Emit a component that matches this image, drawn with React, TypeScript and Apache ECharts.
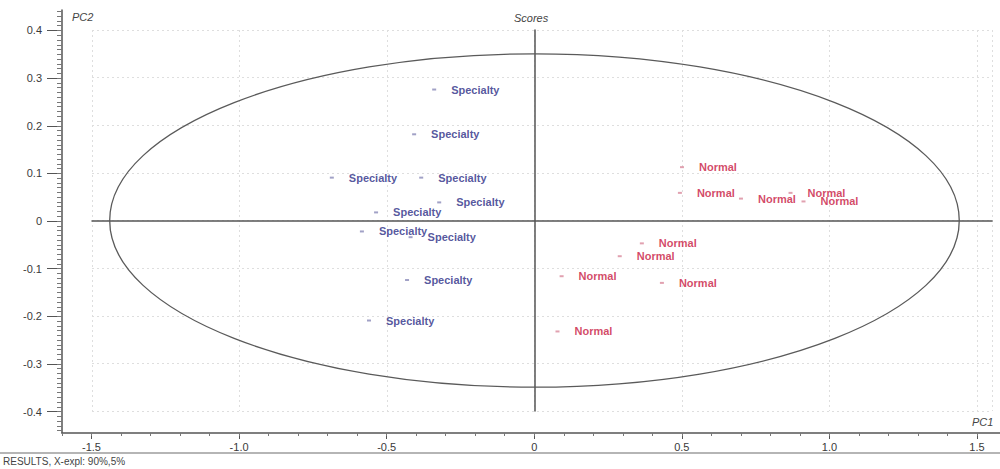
import React, { useEffect, useRef } from "react";
import * as echarts from "echarts";

// PCA scores
const specialtyPC1 = [-0.340, -0.408, -0.687, -0.384, -0.323, -0.537, -0.585, -0.420, -0.432, -0.561];
const specialtyPC2 = [0.275, 0.181, 0.090, 0.090, 0.038, 0.017, -0.023, -0.035, -0.125, -0.210];
const normalPC1 = [0.500, 0.493, 0.700, 0.868, 0.912, 0.364, 0.289, 0.092, 0.432, 0.078];
const normalPC2 = [0.112, 0.058, 0.046, 0.058, 0.040, -0.048, -0.075, -0.117, -0.131, -0.233];
const specialtyName = "Specialty";
const normalName = "Normal";

// Hotelling ellipse (center + semi-axes in score units)
const ellipseCenter = [0, 0];
const ellipseRadii = [1.44, 0.35];

const xTickLabels = [-1.5, -1.0, -0.5, 0, 0.5, 1.0, 1.5];
const yTickLabels = [-0.4, -0.3, -0.2, -0.1, 0, 0.1, 0.2, 0.3, 0.4];

const xMinor: number[] = [];
for (let i = -16; i <= 15; i++) xMinor.push(i / 10);
const yMinor: number[] = [];
for (let i = -44; i <= 44; i++) yMinor.push(i / 100);

const fmt = (v: number) => (Math.abs(v) < 1e-9 ? "0" : v.toFixed(1));

export default function App() {
  const ref = useRef<HTMLDivElement>(null);
  useEffect(() => {
    if (!ref.current) return;
    const chart = echarts.init(ref.current, null, { renderer: "svg" });
    const labelFont = { fontFamily: "Liberation Sans, Arial, sans-serif", fontSize: 11, color: "#3a3a3a" };
    const makeScatter = (name: string, xs: number[], ys: number[], textColor: string, dotColor: string) => ({
      type: "scatter",
      name,
      xAxisIndex: 2,
      yAxisIndex: 2,
      symbol: "rect",
      symbolSize: [4, 2],
      itemStyle: { color: dotColor },
      z: 5,
      label: {
        show: true,
        position: "right",
        distance: 15,
        formatter: () => name,
        fontFamily: "Liberation Sans, Arial, sans-serif",
        fontSize: 11,
        fontWeight: "bold",
        color: textColor,
      },
      data: xs.map((x, i) => [x, ys[i]]),
    });
    chart.setOption({
      animation: false,
      backgroundColor: "#ffffff",
      grid: [
        { left: 62, right: 0, top: 10, bottom: 36 },
        { left: 92, right: 8, top: 30, bottom: 58 },
      ],
      xAxis: [
        {
          type: "value",
          gridIndex: 0,
          min: -1.6,
          max: 1.578,
          position: "bottom",
          axisLine: { onZero: false, lineStyle: { color: "#555", width: 1.5 } },
          axisTick: { customValues: xTickLabels, length: 6, lineStyle: { color: "#555" } },
          axisLabel: { customValues: xTickLabels, formatter: fmt, margin: 8, ...labelFont },
          splitLine: { show: false },
        },
        {
          type: "value",
          gridIndex: 0,
          min: -1.6,
          max: 1.578,
          position: "bottom",
          axisLine: { show: false, onZero: false },
          axisTick: { customValues: xMinor, length: 3, lineStyle: { color: "#777" } },
          axisLabel: { show: false },
          splitLine: { show: false },
        },
        {
          type: "value",
          gridIndex: 1,
          min: -1.5,
          max: 1.551,
          interval: 0.5,
          axisLine: { onZero: true, lineStyle: { color: "#555", width: 1.5 } },
          axisTick: { show: false },
          axisLabel: { show: false },
          splitLine: { show: true, lineStyle: { color: "#dedede", type: [2, 3], width: 1 } },
        },
      ],
      yAxis: [
        {
          type: "value",
          gridIndex: 0,
          min: -0.445,
          max: 0.443,
          position: "left",
          axisLine: { onZero: false, lineStyle: { color: "#555", width: 1.5 } },
          axisTick: { customValues: yTickLabels, length: 15, lineStyle: { color: "#555" } },
          axisLabel: { customValues: yTickLabels, formatter: fmt, margin: 20, ...labelFont },
          splitLine: { show: false },
        },
        {
          type: "value",
          gridIndex: 0,
          min: -0.445,
          max: 0.443,
          position: "left",
          offset: 0,
          axisLine: { show: false, onZero: false },
          axisTick: { customValues: yMinor, length: 5, lineStyle: { color: "#777" } },
          axisLabel: { show: false },
          splitLine: { show: false },
        },
        {
          type: "value",
          gridIndex: 1,
          min: -0.4,
          max: 0.4,
          interval: 0.1,
          axisLine: { onZero: true, lineStyle: { color: "#555", width: 1.5 } },
          axisTick: { show: false },
          axisLabel: { show: false },
          splitLine: { show: true, lineStyle: { color: "#dedede", type: [2, 3], width: 1 } },
        },
      ],
      series: [
        {
          type: "custom",
          xAxisIndex: 2,
          yAxisIndex: 2,
          z: 3,
          silent: true,
          data: [ellipseCenter],
          renderItem: (_params: any, api: any) => {
            const c = api.coord([api.value(0), api.value(1)]);
            const s = api.size(ellipseRadii);
            return {
              type: "ellipse",
              shape: { cx: c[0], cy: c[1], rx: s[0], ry: s[1] },
              style: { fill: "none", stroke: "#5a5a5a", lineWidth: 1.3 },
            };
          },
        },
        makeScatter(specialtyName, specialtyPC1, specialtyPC2, "#2a2c85", "#8a8ab8"),
        makeScatter(normalName, normalPC1, normalPC2, "#c8173f", "#d98a9c"),
      ],
      graphic: [
        {
          type: "text",
          left: 72,
          top: 11,
          style: { text: "PC2", font: "italic 11px 'Liberation Sans', Arial, sans-serif", fill: "#444" },
        },
        {
          type: "text",
          left: 514,
          top: 12,
          style: { text: "Scores", font: "italic 11px 'Liberation Sans', Arial, sans-serif", fill: "#444" },
        },
        {
          type: "text",
          left: 972,
          top: 416,
          style: { text: "PC1", font: "italic 11px 'Liberation Sans', Arial, sans-serif", fill: "#444" },
        },
        {
          type: "rect",
          shape: { x: 0, y: 452, width: 1000, height: 2 },
          style: { fill: "#b5b5b5" },
        },
        {
          type: "text",
          left: 3,
          top: 456,
          style: { text: "RESULTS, X-expl: 90%,5%", font: "10px 'Liberation Sans Narrow', 'Liberation Sans', Arial, sans-serif", fill: "#444" },
        },
      ],
    });
    return () => chart.dispose();
  }, []);
  return (
    <div
      ref={ref}
      style={{ position: "absolute", left: 0, top: 0, width: 1000, height: 469, background: "#fff" }}
    />
  );
}
